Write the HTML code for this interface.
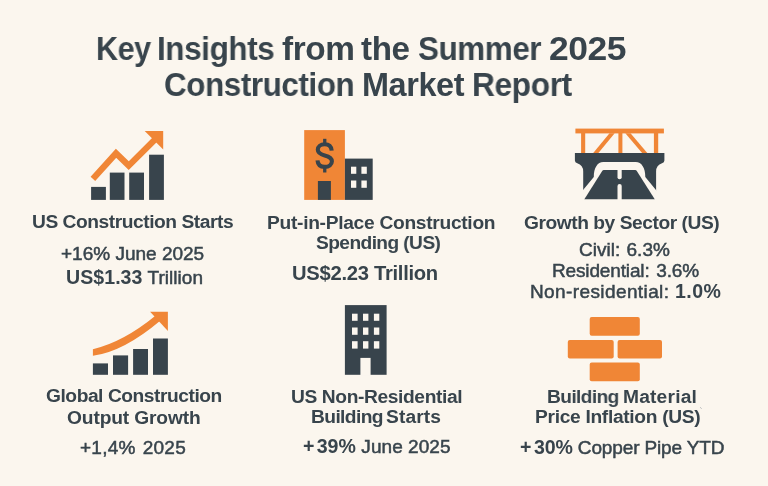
<!DOCTYPE html>
<html lang="en">
<head>
<meta charset="utf-8">
<title>Key Insights from the Summer 2025 Construction Market Report</title>
<style>
html,body{margin:0;padding:0;}
body{width:768px;height:486px;overflow:hidden;background:#fbf6ee;font-family:"Liberation Sans",sans-serif;color:#38444c;position:relative;}
.page{position:absolute;left:0;top:0;width:768px;height:486px;overflow:hidden;background:#fbf6ee;filter:blur(0.4px);}
.t{position:absolute;white-space:nowrap;line-height:1;margin:0;padding:0;font-weight:400;transform-origin:0 0;will-change:transform;}
.t b{font-weight:700;}
.t .m{font-weight:400;-webkit-text-stroke:0.5px #38444c;}
.t .s{font-weight:700;}
svg.icons{position:absolute;left:0;top:0;}
</style>
</head>
<body>
<div class="page">
<svg class="icons" width="768" height="486" viewBox="0 0 768 486">
<!-- icon 1: bar chart with zigzag arrow -->
<g fill="#38444c">
<rect x="91.1" y="186.9" width="14.8" height="13"/>
<rect x="109.8" y="172.6" width="14.7" height="27.3"/>
<rect x="129.2" y="172.6" width="14.8" height="27.3"/>
<rect x="149.1" y="154.7" width="14.8" height="45.2"/>
</g>
<path d="M92.9,178.8 L116,153.3 L128.7,165.6 L157,137.5" fill="none" stroke="#f08636" stroke-width="6.2" stroke-linejoin="miter" stroke-miterlimit="10"/>
<polygon points="144.7,131.1 163.2,131.1 163.2,149.6" fill="#f08636"/>
<!-- icon 2: building with dollar -->
<rect x="304.2" y="130.1" width="40.7" height="69.8" fill="#f08636"/>
<rect x="344.9" y="158.6" width="27.8" height="41.3" fill="#38444c"/>
<rect x="317.9" y="181" width="13" height="18.9" fill="#38444c"/>
<g fill="#fbf6ee">
<rect x="351" y="166.7" width="5.3" height="7.1"/>
<rect x="361.4" y="166.7" width="5.4" height="7.1"/>
<rect x="351" y="180.5" width="5.3" height="7.3"/>
<rect x="361.4" y="180.5" width="5.4" height="7.3"/>
</g>
<path d="M331.7,150.6 C331.3,146.6 328.6,144.3 324.7,144.3 C320.6,144.3 317.8,146.5 317.8,149.8 C317.8,153 320.3,154.3 324.7,155.4 C329.3,156.6 331.9,157.9 331.9,161.2 C331.9,164.6 328.9,166.9 324.7,166.9 C320.5,166.9 317.8,164.5 317.5,160.4" fill="none" stroke="#38444c" stroke-width="4.1"/>
<rect x="323.1" y="138.8" width="3.3" height="4.6" fill="#38444c"/>
<rect x="323.1" y="167.6" width="3.3" height="4.9" fill="#38444c"/>
<!-- icon 3: bridge -->
<g fill="#f08636">
<rect x="575.4" y="128.6" width="88.5" height="4.8"/>
<rect x="581.1" y="133" width="4.1" height="20.5"/>
<rect x="618.4" y="133" width="4" height="20.5"/>
<rect x="653.9" y="133" width="4.3" height="20.5"/>
<polygon points="609.5,133.2 614.7,133.2 598.2,153.3 593,153.3"/>
<polygon points="625.3,133.2 630.5,133.2 647.5,153.3 642.3,153.3"/>
</g>
<path d="M574.9,153.1 H664.4 V160.6 Q664.4,162.6 662,163.3 Q656.2,165 656.1,171.5 V199.4 H583.2 V171.5 Q583.1,165 577.3,163.3 Q574.9,162.6 574.9,160.6 Z" fill="#38444c"/>
<path d="M574.6,200.3 L593.8,177 C593.8,168 597.4,162 603.3,162 H635.7 C641.7,162 645.3,168 645.3,177 L664.4,200.3 Z" fill="#fbf6ee"/>
<path d="M584.2,199.6 L602.2,171 Q602.8,170.1 603.8,170.1 H635.2 Q636.2,170.1 636.8,171 L654.9,199.6 Z" fill="#38444c"/>
<line x1="619.6" y1="169" x2="619.6" y2="177.2" stroke="#fbf6ee" stroke-width="4.2" stroke-linecap="round"/>
<line x1="619.6" y1="186" x2="619.6" y2="201" stroke="#fbf6ee" stroke-width="4.2" stroke-linecap="round"/>
<rect x="560" y="199.5" width="120" height="8" fill="#fbf6ee"/>
<!-- icon 4: bar chart with swoosh arrow -->
<g fill="#38444c">
<rect x="92.9" y="363.4" width="15.1" height="11.4"/>
<rect x="113" y="355.4" width="15.1" height="19.4"/>
<rect x="133.1" y="349" width="14.9" height="25.8"/>
<rect x="153" y="338.5" width="14.9" height="36.3"/>
</g>
<path d="M92.9,349.2 Q123.1,342.2 155.4,315.8 L160.5,320.5 Q123.5,351.8 92.9,355.8 Z" fill="#f08636"/>
<polygon points="150.1,311.7 167.9,311.7 167.9,330.9" fill="#f08636"/>
<!-- icon 5: office building -->
<rect x="344.9" y="305.1" width="41.7" height="69.7" fill="#38444c"/>
<g fill="#fbf6ee">
<rect x="352" y="313.7" width="5.6" height="7.1"/>
<rect x="363" y="313.7" width="5.4" height="7.1"/>
<rect x="373.9" y="313.7" width="5.4" height="7.1"/>
<rect x="352" y="327.5" width="5.6" height="7.3"/>
<rect x="363" y="327.5" width="5.4" height="7.3"/>
<rect x="373.9" y="327.5" width="5.4" height="7.3"/>
<rect x="352" y="341.2" width="5.6" height="7.4"/>
<rect x="363" y="341.2" width="5.4" height="7.4"/>
<rect x="373.9" y="341.2" width="5.4" height="7.4"/>
<rect x="360.4" y="357.9" width="10.2" height="17.5"/>
</g>
<!-- icon 6: bricks -->
<g fill="#f08636">
<rect x="589.7" y="317" width="50.1" height="18.8" rx="2" ry="2"/>
<rect x="567.8" y="340" width="45.9" height="18.5" rx="2" ry="2"/>
<rect x="617.6" y="340" width="44.4" height="18.5" rx="2" ry="2"/>
<rect x="589.7" y="362.4" width="50.1" height="18.8" rx="2" ry="2"/>
</g>
<line x1="700.3" y1="407.3" x2="701.5" y2="408.7" stroke="#9aa0a4" stroke-width="0.8"/>
</svg>
<div class="t" id="t1a" style="left:95.70px;top:32.77px;font-size:32.40px;letter-spacing:-0.400px;transform:scaleX(0.9412);"><b>Key</b></div>
<div class="t" id="t1b" style="left:157.45px;top:32.77px;font-size:32.40px;letter-spacing:-0.400px;transform:scaleX(0.9704);"><b>Insights</b></div>
<div class="t" id="t1c" style="left:281.60px;top:32.77px;font-size:32.40px;letter-spacing:-0.400px;transform:scaleX(1.0293);"><b>from</b></div>
<div class="t" id="t1d" style="left:360.80px;top:32.77px;font-size:32.40px;letter-spacing:-0.400px;transform:scaleX(1.0236);"><b>the</b></div>
<div class="t" id="t1e" style="left:417.80px;top:32.77px;font-size:32.40px;letter-spacing:-0.400px;transform:scaleX(0.9679);"><b>Summer</b></div>
<div class="t" id="t1f" style="left:548.80px;top:32.77px;font-size:32.40px;letter-spacing:-0.400px;transform:scaleX(1.0934);"><b>2025</b></div>
<div class="t" id="t2a" style="left:163.80px;top:68.77px;font-size:32.40px;letter-spacing:-0.400px;transform:scaleX(0.9675);"><b>Construction</b></div>
<div class="t" id="t2b" style="left:362.00px;top:68.77px;font-size:32.40px;letter-spacing:-0.400px;transform:scaleX(0.9995);"><b>Market</b></div>
<div class="t" id="t2c" style="left:472.40px;top:68.77px;font-size:32.40px;letter-spacing:-0.400px;transform:scaleX(0.9786);"><b>Report</b></div>
<div class="t" id="a1" style="left:32.22px;top:212.44px;font-size:19.20px;letter-spacing:-0.454px;"><span class="s">US Construction Starts</span></div>
<div class="t" id="a2" style="left:61.10px;top:244.41px;font-size:19.00px;letter-spacing:0.000px;"><span class="m">+16% June 2025</span></div>
<div class="t" id="a3" style="left:65.98px;top:268.41px;font-size:19.00px;letter-spacing:0.048px;"><span class="s" style="font-size:1.03em">US$1.33</span><span class="m"> Trillion</span></div>
<div class="t" id="b1" style="left:267.10px;top:212.74px;font-size:19.20px;letter-spacing:-0.293px;"><span class="s">Put-in-Place Construction</span></div>
<div class="t" id="b2" style="left:316.22px;top:233.04px;font-size:19.20px;letter-spacing:-0.600px;transform:scaleX(0.9990);"><span class="s">Spending (US)</span></div>
<div class="t" id="b3" style="left:292.22px;top:262.60px;font-size:20.20px;letter-spacing:-0.276px;"><span class="s">US$2.23 Trillion</span></div>
<div class="t" id="c1" style="left:524.22px;top:212.74px;font-size:19.20px;letter-spacing:-0.450px;"><span class="s">Growth by Sector (US)</span></div>
<div class="t" id="c2" style="left:579.22px;top:239.61px;font-size:19.00px;letter-spacing:0.036px;"><span class="m">Civil:</span><span class="m" style="margin-left:0.8px"> 6.3%</span></div>
<div class="t" id="c3" style="left:552.22px;top:261.21px;font-size:19.00px;letter-spacing:-0.146px;"><span class="m">Residential:</span><span class="m" style="margin-left:1.6px"> 3.6%</span></div>
<div class="t" id="c4" style="left:530.10px;top:282.21px;font-size:19.00px;letter-spacing:0.396px;"><span class="m">Non-residential: </span><span class="s" style="font-size:1.03em">1.0%</span></div>
<div class="t" id="d1" style="left:45.98px;top:386.44px;font-size:19.20px;letter-spacing:-0.450px;"><span class="s">Global Construction</span></div>
<div class="t" id="d2" style="left:67.22px;top:407.74px;font-size:19.20px;letter-spacing:-0.135px;"><span class="s">Output Growth</span></div>
<div class="t" id="d3" style="left:80.10px;top:437.61px;font-size:19.00px;letter-spacing:0.240px;"><span class="m">+1,4%</span><span class="m" style="margin-left:1.6px"> 2025</span></div>
<div class="t" id="e1" style="left:290.98px;top:386.94px;font-size:19.20px;letter-spacing:-0.381px;"><span class="s">US Non-Residential</span></div>
<div class="t" id="e2a" style="left:311.22px;top:407.34px;font-size:19.20px;letter-spacing:-0.600px;transform:scaleX(1.0002);"><span class="s">Building</span></div>
<div class="t" id="e2b" style="left:386.34px;top:407.34px;font-size:19.20px;letter-spacing:0.096px;"><span class="s">Starts</span></div>
<div class="t" id="e3" style="left:302.98px;top:437.21px;font-size:19.00px;letter-spacing:0.055px;"><span class="s" style="margin-right:2.2px;font-size:1.03em">+</span><span class="s" style="font-size:1.03em">39%</span><span class="m"> June 2025</span></div>
<div class="t" id="f1a" style="left:547.12px;top:386.54px;font-size:19.20px;letter-spacing:-0.600px;transform:scaleX(0.9965);"><span class="s">Building</span></div>
<div class="t" id="f1b" style="left:623.14px;top:386.54px;font-size:19.20px;letter-spacing:0.189px;"><span class="s">Material</span></div>
<div class="t" id="f2" style="left:535.22px;top:407.04px;font-size:19.20px;letter-spacing:-0.313px;"><span class="s">Price Inflation (US)</span></div>
<div class="t" id="f3" style="left:520.10px;top:437.91px;font-size:19.00px;letter-spacing:-0.133px;"><span class="s" style="margin-right:2.6px;font-size:1.03em">+</span><span class="s" style="font-size:1.03em">30%</span><span class="m"> Copper Pipe YTD</span></div>
</div>
</body>
</html>
